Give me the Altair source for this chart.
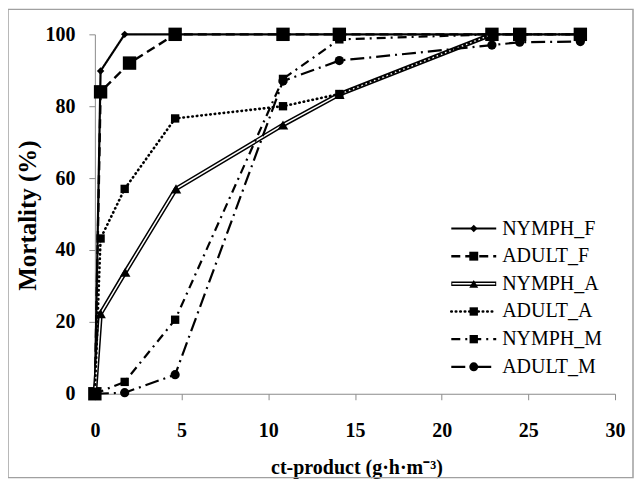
import altair as alt
import pandas as pd

# ---- data ----
series_names = ["NYMPH_F", "ADULT_F", "NYMPH_A", "ADULT_A", "NYMPH_M", "ADULT_M"]

nymph_f_x = [0, 0.33, 1.72, 4.63, 10.85, 14.1, 22.9, 24.5, 28.0]
nymph_f_y = [0, 89.8, 100, 100, 100, 100, 100, 100, 100]

adult_f_x = [0, 0.33, 2.0, 4.63, 10.85, 14.1, 22.9, 24.5, 28.0]
adult_f_y = [0, 84.0, 92.0, 100, 100, 100, 100, 100, 100]

nymph_a_x = [0, 0.33, 1.75, 4.68, 10.85, 14.1, 22.9]
nymph_a_y = [0, 22.3, 33.8, 57.0, 74.8, 83.3, 100]

adult_a_x = [0, 0.33, 1.72, 4.63, 10.85, 14.1, 22.9]
adult_a_y = [0, 43.2, 57.0, 76.6, 80.0, 83.4, 100]

nymph_m_x = [0, 1.72, 4.63, 10.85, 14.1, 22.9, 24.5, 28.0]
nymph_m_y = [0, 3.3, 20.6, 87.6, 98.6, 100, 100, 100]

adult_m_x = [0, 1.72, 4.63, 10.85, 14.1, 22.9, 24.5, 28.0]
adult_m_y = [0, 0.3, 5.3, 87.0, 92.7, 97.0, 97.8, 98.0]

x_ticks = [0, 5, 10, 15, 20, 25, 30]
y_ticks = [0, 20, 40, 60, 80, 100]

x_title = "ct-product (g\u00b7h\u00b7m\u207b\u00b3)"
y_title = "Mortality (%)"

series_x = [nymph_f_x, adult_f_x, nymph_a_x, adult_a_x, nymph_m_x, adult_m_x]
series_y = [nymph_f_y, adult_f_y, nymph_a_y, adult_a_y, nymph_m_y, adult_m_y]

# ---- styles ----
styles = {
    "NYMPH_F": dict(dash=[1, 0], shape="diamond", size=55, width=2.2, cap="butt"),
    "ADULT_F": dict(dash=[9, 5], shape="square", size=180, width=2.4, cap="butt"),
    "NYMPH_A": dict(dash=None, shape="triangle-up", size=110, width=4.5, cap="butt"),
    "ADULT_A": dict(dash=[0.5, 4], shape="square", size=70, width=2.6, cap="round"),
    "NYMPH_M": dict(dash=[9, 5, 2, 5], shape="square", size=70, width=2.2, cap="butt"),
    "ADULT_M": dict(dash=[14, 5, 2, 5], shape="circle", size=85, width=2.2, cap="butt"),
}

FONT = "Liberation Serif"
GRAY = "#8c8c8c"

xs = alt.X("x:Q", scale=alt.Scale(domain=[0, 30], nice=False, zero=False),
           axis=alt.Axis(values=x_ticks, grid=False, domainColor=GRAY, tickColor=GRAY,
                         tickSize=6, labelFont=FONT, labelFontWeight="bold", labelFontSize=20,
                         labelColor="black", labelPadding=21, labelFlush=False,
                         title=x_title, titleFont=FONT, titleFontSize=20, titleFontWeight="bold",
                         titleColor="black", titleX=262, titleY=74, titleBaseline="middle",
                         titleAlign="center"))
ys = alt.Y("y:Q", scale=alt.Scale(domain=[0, 100], nice=False),
           axis=alt.Axis(values=y_ticks, grid=False, domainColor=GRAY, tickColor=GRAY,
                         tickSize=6, labelFont=FONT, labelFontWeight="bold", labelFontSize=20,
                         labelColor="black", labelPadding=14,
                         title=y_title, titleFont=FONT, titleFontSize=25, titleFontWeight="bold",
                         titleColor="black", titleAngle=270, titleX=-67, titleY=181,
                         titleBaseline="middle", titleAlign="center"))

layers = []

# outer frame of the figure
frame = alt.Chart(alt.Data(values=[{"f": 1}])).mark_rect(
    fillOpacity=0, stroke="#a0a0a0", strokeWidth=1.5
).encode(x=alt.value(-87), x2=alt.value(539), y=alt.value(-25), y2=alt.value(444))
layers.append(frame)

for name, sx, sy in zip(series_names, series_x, series_y):
    df = pd.DataFrame({"x": sx, "y": sy, "series": name})
    st = styles[name]
    base = alt.Chart(df)
    if name == "NYMPH_A":
        layers.append(base.mark_line(color="black", strokeWidth=4.5).encode(x=xs, y=ys))
        layers.append(base.mark_line(color="white", strokeWidth=1.5).encode(x=xs, y=ys))
    else:
        layers.append(base.mark_line(color="black", strokeWidth=st["width"],
                                     strokeDash=st["dash"], strokeCap=st["cap"]).encode(x=xs, y=ys))
    layers.append(base.mark_point(shape=st["shape"], size=st["size"], filled=True,
                                  color="black", opacity=1).encode(x=xs, y=ys))

# ---- legend (drawn manually to reproduce the line + marker samples) ----
leg_x0, leg_x1, leg_mid, leg_text_x = 357, 402, 379.5, 408
leg_y0, leg_dy = 194.5, 27.7
for i, name in enumerate(series_names):
    st = styles[name]
    yy = leg_y0 + i * leg_dy
    src = alt.Chart(alt.Data(values=[{"label": name}]))
    if name == "NYMPH_A":
        layers.append(src.mark_rule(color="black", strokeWidth=4.5).encode(
            x=alt.value(leg_x0), x2=alt.value(leg_x1), y=alt.value(yy)))
        layers.append(src.mark_rule(color="white", strokeWidth=1.5).encode(
            x=alt.value(leg_x0 + 1), x2=alt.value(leg_x1 - 1), y=alt.value(yy)))
    else:
        layers.append(src.mark_rule(color="black", strokeWidth=st["width"],
                                    strokeDash=st["dash"], strokeCap=st["cap"]).encode(
            x=alt.value(leg_x0), x2=alt.value(leg_x1), y=alt.value(yy)))
    layers.append(src.mark_point(shape=st["shape"], size=min(st["size"], 80), filled=True,
                                 color="black", opacity=1).encode(
        x=alt.value(leg_mid), y=alt.value(yy)))
    layers.append(src.mark_text(font=FONT, fontSize=20, align="left", baseline="middle",
                                color="black").encode(
        x=alt.value(leg_text_x), y=alt.value(yy), text="label:N"))

chart = alt.layer(*layers).properties(
    width=521, height=360,
    autosize=alt.AutoSizeParams(type="none"),
    padding={"left": 87, "top": 26, "right": 19, "bottom": 85},
    background="white",
).configure_view(stroke=None)

chart.save("out.html", embed_options={"renderer": "svg", "actions": False})
